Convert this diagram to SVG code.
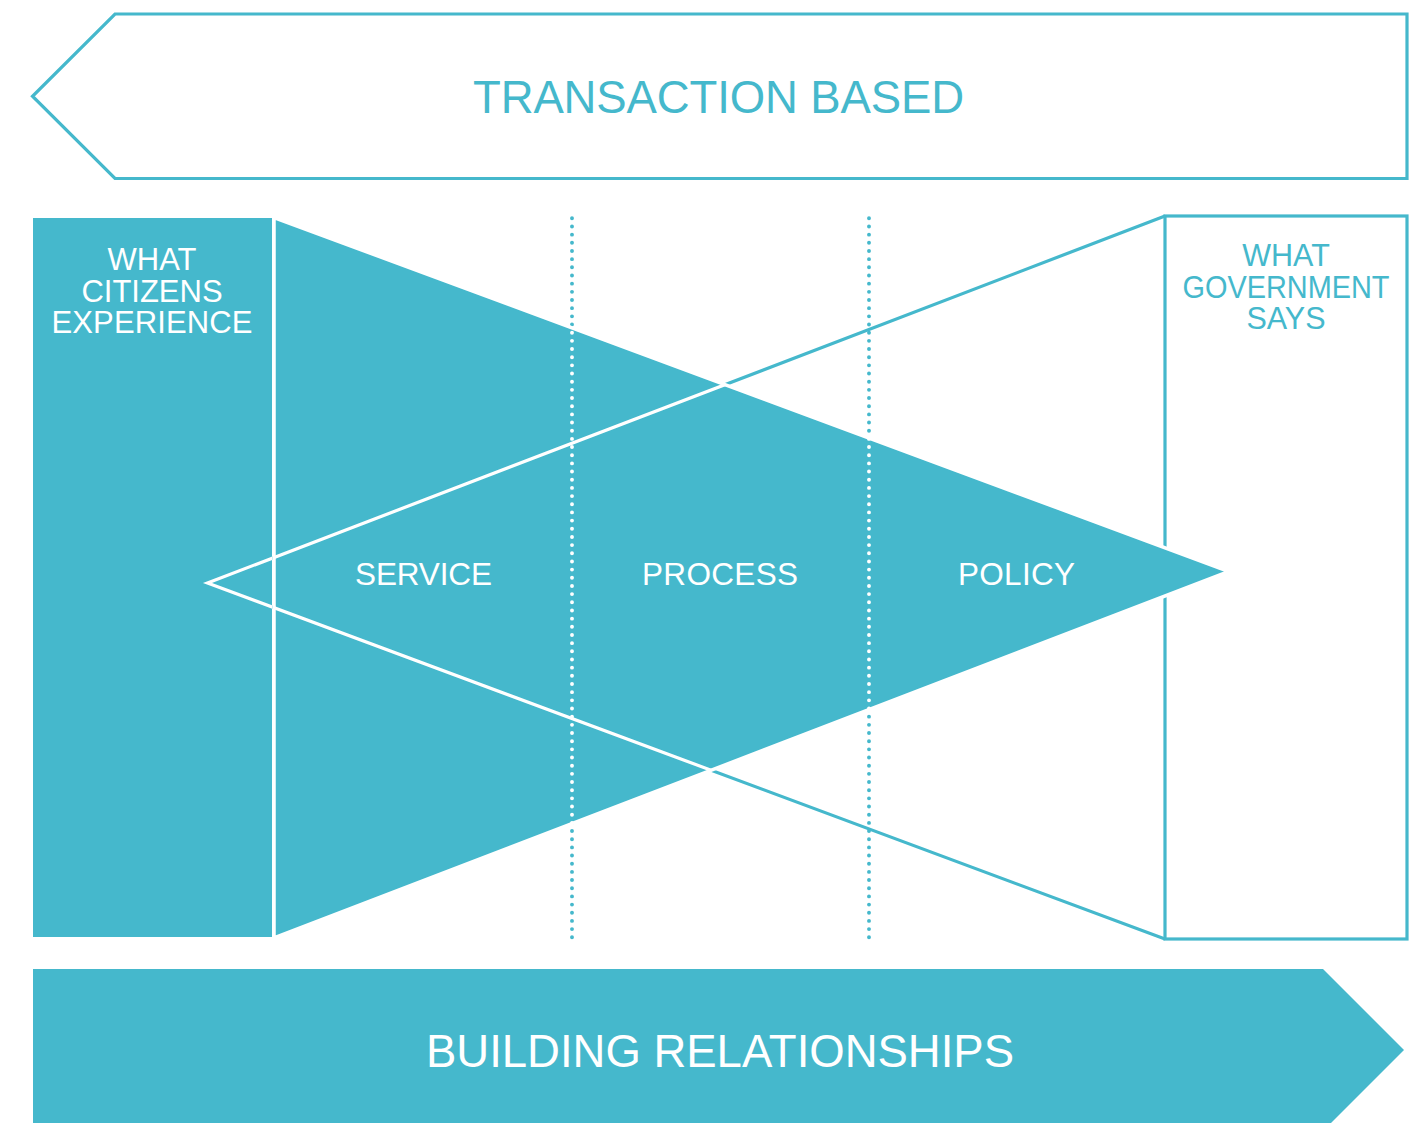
<svg xmlns="http://www.w3.org/2000/svg" width="1418" height="1123" viewBox="0 0 1418 1123">
<style>
.lbl{font-family:"Liberation Sans",Arial,sans-serif;text-anchor:middle}
.w{fill:#ffffff}
.t{fill:#45b8cc}
.outline{fill:none;stroke:#45b8cc;stroke-width:3.2}
.wline{fill:none;stroke:#ffffff;stroke-width:3.2}
.dots{fill:none;stroke-width:3.9;stroke-linecap:round;stroke-dasharray:0 8.17}
</style>
<defs>
<clipPath id="tealArea">
<rect x="33" y="218" width="239" height="719"/>
<polygon points="274,217.5 1229,571.5 274,938"/>
</clipPath>
</defs>
<rect width="1418" height="1123" fill="#ffffff"/>

<g id="transaction-based">
<polygon class="outline" points="115,14 1407,14 1407,178.5 115,178.5 32.5,96.25"/>
<text class="lbl t" x="718.5" y="113" font-size="45.5" textLength="491">TRANSACTION BASED</text>
</g>

<g id="government-says">
<rect class="outline" x="1165" y="216" width="242" height="723"/>
<text class="lbl t" x="1286" y="265.7" font-size="30.5">WHAT</text>
<text class="lbl t" x="1286" y="297.7" font-size="30.5" textLength="207" lengthAdjust="spacingAndGlyphs">GOVERNMENT</text>
<text class="lbl t" x="1286" y="329.3" font-size="30.5">SAYS</text>
</g>

<g id="connectors">
<polyline class="outline" stroke-linejoin="miter" points="1165,216 207.5,583 1165,939"/>
<line class="dots" stroke="#45b8cc" x1="572" y1="218.3" x2="572" y2="938.5"/>
<line class="dots" stroke="#45b8cc" x1="869" y1="218.3" x2="869" y2="938.5"/>
</g>

<g id="citizens-experience">
<rect x="33" y="218" width="239" height="719" fill="#45b8cc"/>
<text class="lbl w" x="152" y="269.5" font-size="31">WHAT</text>
<text class="lbl w" x="152" y="301.7" font-size="31">CITIZENS</text>
<text class="lbl w" x="152" y="333.3" font-size="31" textLength="201">EXPERIENCE</text>
</g>

<g id="service-process-policy">
<polygon points="274,217.5 1229,571.5 274,938" fill="#45b8cc" stroke="#ffffff" stroke-width="3.5"/>
<g clip-path="url(#tealArea)">
<polyline class="wline" stroke-linejoin="miter" points="1165,216 207.5,583 1165,939"/>
<line class="dots" stroke="#ffffff" x1="572" y1="218.3" x2="572" y2="938.5"/>
<line class="dots" stroke="#ffffff" x1="869" y1="218.3" x2="869" y2="938.5"/>
</g>
<text class="lbl w" x="423.5" y="585" font-size="31.5" textLength="137">SERVICE</text>
<text class="lbl w" x="720" y="585" font-size="31.5" textLength="156">PROCESS</text>
<text class="lbl w" x="1016.5" y="585" font-size="31.5" textLength="117">POLICY</text>
</g>

<g id="building-relationships">
<polygon points="33,969 1323,969 1404,1050 1323,1131 33,1131" fill="#45b8cc"/>
<text class="lbl w" x="720" y="1067" font-size="45.5" textLength="588">BUILDING RELATIONSHIPS</text>
</g>
</svg>
